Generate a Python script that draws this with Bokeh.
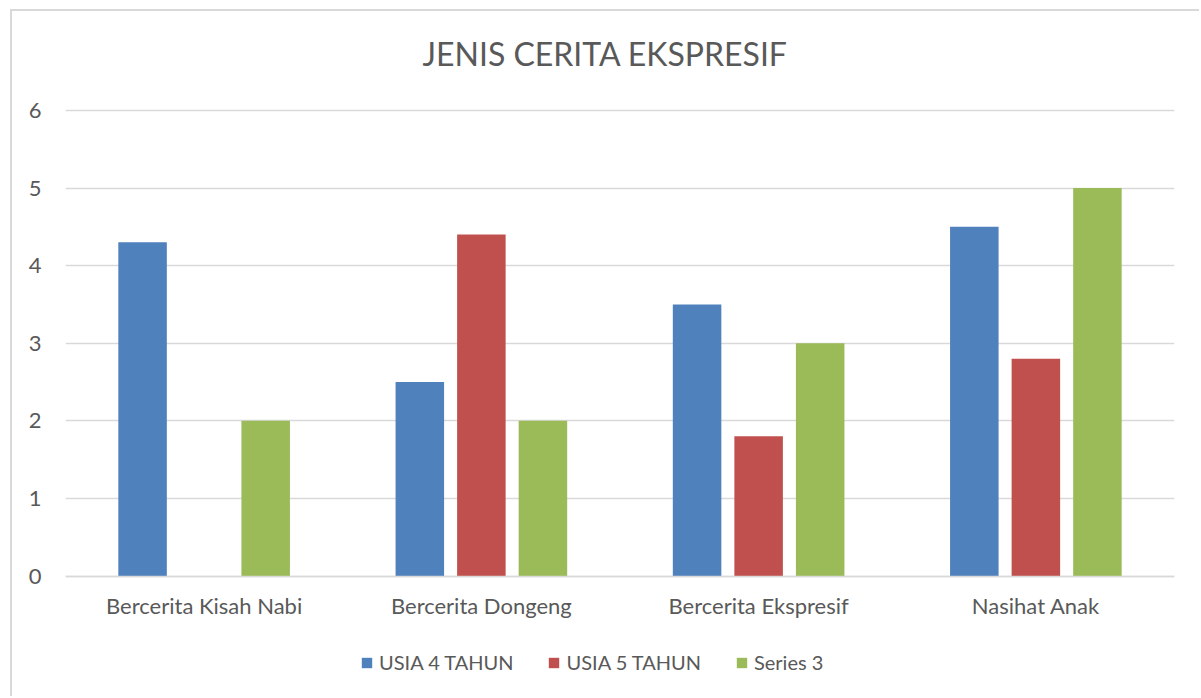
from bokeh.plotting import figure
from bokeh.models import ColumnDataSource, FactorRange, Range1d, Legend, LegendItem, FixedTicker
from bokeh.transform import dodge
from bokeh.embed import file_html
from bokeh.resources import INLINE

categories = ["Bercerita Kisah Nabi", "Bercerita Dongeng", "Bercerita Ekspresif", "Nasihat Anak"]
series_names = ["USIA 4 TAHUN", "USIA 5 TAHUN", "Series 3"]
usia4 = [4.3, 2.5, 3.5, 4.5]
usia5 = [0.0, 4.4, 1.8, 2.8]
series3 = [2.0, 2.0, 3.0, 5.0]
y_ticks = [0, 1, 2, 3, 4, 5, 6]

colors = ["#4F81BD", "#C0504D", "#9BBB59"]
FONT = "Lato"
TEXT_COLOR = "#595959"

source = ColumnDataSource(data=dict(cat=categories, s1=usia4, s2=usia5, s3=series3))

# frame reaches the bottom of the chart; the x axis sits at y=0 and the legend below it
p = figure(
    x_range=FactorRange(*categories, range_padding=0),
    y_range=Range1d(-1.578, 6.386),
    width=1189, height=687,
    output_backend="svg", toolbar_location=None,
    min_border_left=53, min_border_right=27, min_border_top=69, min_border_bottom=0,
)
p.styles = {"border-top": "2px solid #D9D9D9", "border-left": "2px solid #D9D9D9",
            "margin-left": "10px", "margin-top": "9px"}

p.title.text = "JENIS CERITA EKSPRESIF"
p.title.align = "left"
p.title.text_font = FONT
p.title.text_font_size = "32px"
p.title.text_font_style = "normal"
p.title.text_color = TEXT_COLOR
p.title.offset = 357
p.title.standoff = 15

offsets = [-0.222, 0.0, 0.222]
renderers = []
for key, off, col in zip(["s1", "s2", "s3"], offsets, colors):
    r = p.vbar(x=dodge("cat", off, range=p.x_range), top=key, width=0.175, bottom=0,
               source=source, fill_color=col, line_color=None)
    renderers.append(r)

p.outline_line_color = None
p.xgrid.grid_line_color = None
p.ygrid.grid_line_color = "#D9D9D9"
p.ygrid.grid_line_width = 1.5
p.yaxis.ticker = FixedTicker(ticks=y_ticks)

p.yaxis.axis_line_color = None
p.yaxis.major_tick_line_color = None
p.yaxis.minor_tick_line_color = None
p.yaxis.major_label_text_font = FONT
p.yaxis.major_label_text_font_size = "22px"
p.yaxis.major_label_text_color = TEXT_COLOR
p.yaxis.major_label_standoff = 18

p.xaxis.fixed_location = 0
p.xaxis.axis_line_color = "#D9D9D9"
p.xaxis.axis_line_width = 1.5
p.xaxis.major_tick_line_color = None
p.xaxis.minor_tick_line_color = None
p.xaxis.major_label_text_font = FONT
p.xaxis.major_label_text_font_size = "22px"
p.xaxis.major_label_text_color = TEXT_COLOR
p.xaxis.major_label_standoff = 10

legend = Legend(
    items=[LegendItem(label=n, renderers=[r]) for n, r in zip(series_names, renderers)],
    orientation="horizontal",
    location=(295, 24),
    label_text_font=FONT,
    label_text_font_size="20px",
    label_text_color=TEXT_COLOR,
    glyph_width=13, glyph_height=13,
    spacing=34, label_standoff=6,
    border_line_color=None, background_fill_alpha=0,
    padding=0, margin=0,
)
p.add_layout(legend, "center")

open("out.html", "w").write(file_html(p, INLINE))
